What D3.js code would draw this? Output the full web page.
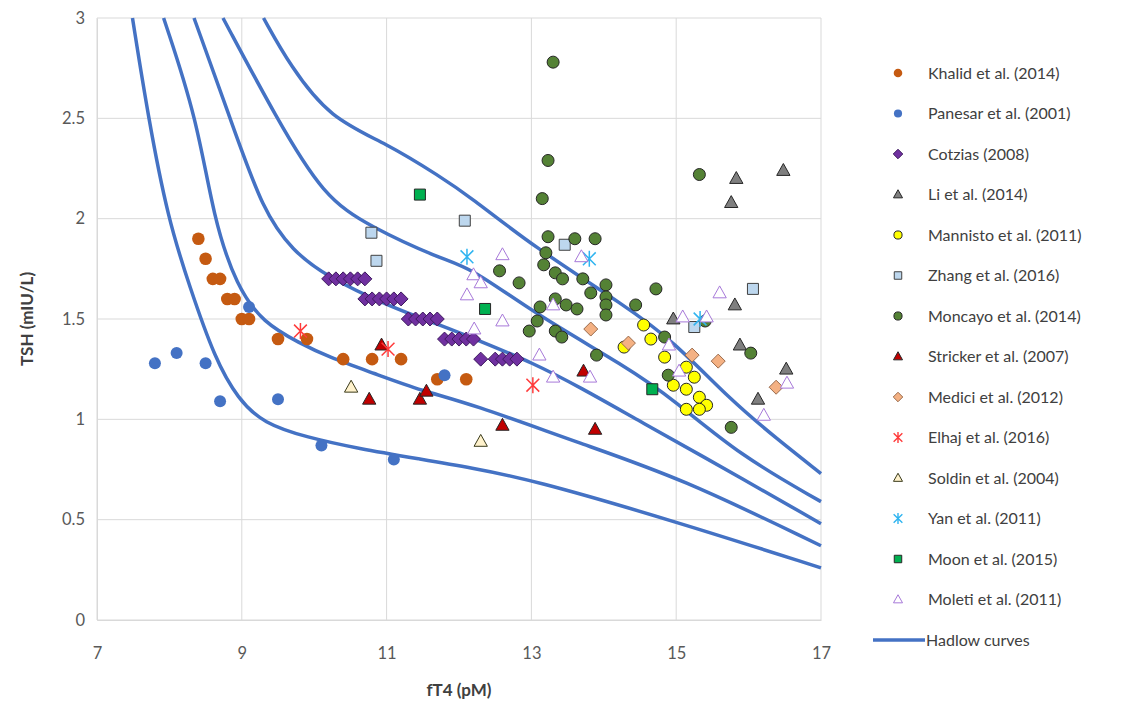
<!DOCTYPE html>
<html><head><meta charset="utf-8">
<script src="https://cdn.jsdelivr.net/npm/d3@7"></script>
<style>body{margin:0;background:#fff} text{font-family:Lato,"Open Sans",sans-serif}</style>
</head><body><svg id="c" width="1127" height="704"></svg>
<script>
// ---- data ----
const xTicks = [7, 9, 11, 13, 15, 17];
const yTicks = [0, 0.5, 1, 1.5, 2, 2.5, 3];
const xTitle = "fT4 (pM)";
const yTitle = "TSH (mIU/L)";

const khalid = [[8.4,1.9],[8.5,1.8],[8.6,1.7],[8.7,1.7],[8.8,1.6],[8.9,1.6],[9.0,1.5],[9.1,1.5],[9.5,1.4],[9.9,1.4],[10.4,1.3],[10.8,1.3],[11.2,1.3],[11.7,1.2],[12.1,1.2]];
const panesar = [[7.8,1.28],[8.1,1.33],[8.5,1.28],[8.7,1.09],[9.1,1.56],[9.5,1.10],[10.1,0.87],[11.1,0.80],[11.8,1.22]];
const cotzias = [[10.2,1.7],[10.3,1.7],[10.4,1.7],[10.5,1.7],[10.6,1.7],[10.7,1.7],
  [10.7,1.6],[10.8,1.6],[10.9,1.6],[11.0,1.6],[11.1,1.6],[11.2,1.6],
  [11.3,1.5],[11.4,1.5],[11.5,1.5],[11.6,1.5],[11.7,1.5],
  [11.8,1.4],[11.9,1.4],[12.0,1.4],[12.1,1.4],[12.2,1.4],
  [12.3,1.3],[12.5,1.3],[12.6,1.3],[12.7,1.3],[12.8,1.3]];
const li = [[14.96,1.50],[15.81,1.57],[15.88,1.37],[16.13,1.10],[16.52,1.25],[15.76,2.08],[15.83,2.20],[16.48,2.24]];
const mannisto = [[14.28,1.36],[14.55,1.47],[14.65,1.40],[14.84,1.31],[15.14,1.26],[15.25,1.21],[14.96,1.17],[15.14,1.15],[15.32,1.11],[15.42,1.07],[15.14,1.05],[15.32,1.05]];
const zhang = [[10.79,1.93],[10.86,1.79],[12.08,1.99],[13.46,1.87],[15.25,1.46],[16.06,1.65]];
const moncayo = [[13.30,2.78],[13.23,2.29],[13.15,2.10],[13.23,1.91],[13.60,1.90],[13.88,1.90],[13.20,1.83],[13.17,1.77],[12.56,1.74],[12.83,1.68],[13.33,1.73],[13.43,1.70],[13.71,1.70],[14.03,1.67],[13.82,1.63],[14.03,1.61],[14.03,1.57],[14.03,1.52],[14.72,1.65],[14.44,1.57],[13.12,1.56],[13.33,1.60],[13.48,1.57],[13.63,1.55],[13.08,1.49],[12.97,1.44],[13.33,1.44],[13.42,1.41],[14.84,1.41],[13.90,1.32],[14.89,1.22],[16.03,1.33],[15.76,0.96],[15.32,2.22],[15.40,1.49]];
const stricker = [[10.93,1.37],[10.76,1.10],[11.46,1.10],[11.55,1.14],[12.60,0.97],[13.72,1.24],[13.88,0.95]];
const medici = [[13.82,1.45],[14.34,1.38],[15.22,1.32],[15.58,1.29],[16.38,1.16]];
const elhaj = [[9.81,1.44],[11.02,1.35],[13.02,1.17]];
const soldin = [[10.51,1.16],[12.30,0.89]];
const yan = [[12.11,1.81],[13.80,1.80],[15.33,1.50]];
const moon = [[11.46,2.12],[12.36,1.55],[14.67,1.15]];
const moleti = [[12.60,1.82],[12.20,1.72],[12.30,1.68],[12.11,1.62],[12.60,1.49],[12.21,1.45],[13.11,1.32],[13.30,1.21],[13.81,1.21],[13.69,1.81],[13.30,1.57],[15.60,1.63],[15.09,1.51],[15.42,1.51],[14.90,1.37],[15.04,1.24],[16.53,1.18],[16.21,1.02]];

const hadlow1 = [[7.49,3.0],[7.71,2.5],[7.98,2.0],[8.28,1.66],[8.63,1.30],[8.95,1.10],[9.3,0.98],[9.9,0.91],[10.6,0.855],[11.5,0.80],[12.15,0.76],[13.0,0.70],[15.0,0.49],[17.0,0.26]];
const hadlow2 = [[7.92,3.0],[8.38,2.5],[8.61,2.0],[8.93,1.66],[9.30,1.48],[9.8,1.38],[10.2,1.31],[10.82,1.23],[11.5,1.14],[12.15,1.08],[13.67,0.88],[15.05,0.71],[17.0,0.37]];
const hadlow3 = [[8.34,3.0],[8.84,2.5],[9.3,2.03],[9.71,1.84],[10.13,1.72],[11.05,1.56],[11.74,1.47],[12.29,1.39],[13.03,1.28],[13.67,1.16],[14.5,0.99],[15.2,0.85],[17.0,0.48]];
const hadlow4 = [[8.74,3.0],[9.48,2.5],[10.13,2.11],[10.77,1.96],[11.74,1.80],[12.15,1.76],[13.03,1.53],[14.32,1.26],[14.96,1.10],[15.88,0.82],[17.0,0.59]];
const hadlow5 = [[9.30,3.0],[9.67,2.76],[10.22,2.5],[11.0,2.375],[11.74,2.21],[12.15,2.11],[13.03,1.86],[14.32,1.56],[14.96,1.39],[15.74,1.10],[16.4,0.90],[17.0,0.73]];
const hadlowCurves = [hadlow1, hadlow2, hadlow3, hadlow4, hadlow5];

const seriesNames = ["Khalid et al. (2014)","Panesar et al. (2001)","Cotzias (2008)","Li et al. (2014)","Mannisto et al. (2011)","Zhang et al. (2016)","Moncayo et al. (2014)","Stricker et al. (2007)","Medici et al. (2012)","Elhaj et al. (2016)","Soldin et al. (2004)","Yan et al. (2011)","Moon et al. (2015)","Moleti et al. (2011)"];
const seriesData = [khalid, panesar, cotzias, li, mannisto, zhang, moncayo, stricker, medici, elhaj, soldin, yan, moon, moleti];
const hadlowName = "Hadlow curves";

// ---- styles ----
const styles = [
  {shape:"circle", fill:"#C55A11", stroke:"none", size:6.3},
  {shape:"circle", fill:"#4472C4", stroke:"none", size:6},
  {shape:"diamond", fill:"#7030A0", stroke:"#3d1a5e", size:7},
  {shape:"triangle", fill:"#7F7F7F", stroke:"#262626", size:7},
  {shape:"circle", fill:"#FFFF00", stroke:"#262626", size:6},
  {shape:"square", fill:"#BDD7EE", stroke:"#404040", size:5.5},
  {shape:"circle", fill:"#548235", stroke:"#262626", size:6},
  {shape:"triangle", fill:"#C00000", stroke:"#262626", size:7},
  {shape:"diamond", fill:"#F4B183", stroke:"#9a6b4c", size:7},
  {shape:"star", fill:"none", stroke:"#FF3B3B", size:8},
  {shape:"triangle", fill:"#FFF2CC", stroke:"#3a3a1a", size:7},
  {shape:"star", fill:"none", stroke:"#2FB4F0", size:8},
  {shape:"square", fill:"#00B050", stroke:"#262626", size:5.5},
  {shape:"triangle", fill:"#ffffff", stroke:"#A779D9", size:7}
];

function shapePath(shape, s){
  switch(shape){
    case "circle": return `M${-s},0A${s},${s} 0 1,0 ${s},0A${s},${s} 0 1,0 ${-s},0Z`;
    case "diamond": return `M0,${-s}L${s},0L0,${s}L${-s},0Z`;
    case "square": return `M${-s},${-s}H${s}V${s}H${-s}Z`;
    case "triangle": return `M0,${-s}L${s*0.95},${s*0.7}L${-s*0.95},${s*0.7}Z`;
    case "star": {const a=s*0.8; return `M${-a},${-a}L${a},${a}M${-a},${a}L${a},${-a}M0,${-s}L0,${s}`;}
  }
}

const svg = d3.select("#c");
const x = d3.scaleLinear().domain([7,17]).range([97,821]);
const y = d3.scaleLinear().domain([0,3]).range([620,18]);

// grid
const g = svg.append("g");
g.selectAll(".hg").data(yTicks).join("line")
  .attr("x1", x(7)).attr("x2", x(17)).attr("y1", d=>y(d)).attr("y2", d=>y(d))
  .attr("stroke", "#d9d9d9").attr("stroke-width", 1);
g.selectAll(".vg").data(xTicks).join("line")
  .attr("y1", y(0)).attr("y2", y(3)).attr("x1", d=>x(d)).attr("x2", d=>x(d))
  .attr("stroke", "#d9d9d9").attr("stroke-width", 1);

// axes labels
const yAxis = d3.axisLeft(y).tickValues(yTicks).tickFormat(d3.format("")).tickSize(0).tickPadding(12);
const xAxis = d3.axisBottom(x).tickValues(xTicks).tickFormat(d3.format("d")).tickSize(0).tickPadding(27);
const ya = svg.append("g").attr("transform", `translate(${x(7)},0)`).call(yAxis);
const xa = svg.append("g").attr("transform", `translate(0,${y(0)})`).call(xAxis);
[ya, xa].forEach(a=>{
  a.select(".domain").attr("stroke","#d9d9d9");
  a.selectAll("text").attr("fill","#595959").style("font-size","16.5px").style("font-family","Lato, 'Open Sans', sans-serif");
});

svg.append("text").text(xTitle).attr("x", 459).attr("y", 696).attr("text-anchor","middle")
  .attr("font-weight","bold").attr("font-size","17px").attr("fill","#404040");
svg.append("text").text(yTitle).attr("transform","translate(33,319) rotate(-90)").attr("text-anchor","middle")
  .attr("font-weight","bold").attr("font-size","17px").attr("fill","#404040");

// curves
svg.append("clipPath").attr("id","clip").append("rect").attr("x",x(7)).attr("y",y(3)-2).attr("width",x(17)-x(7)+2).attr("height",y(0)-y(3)+2);
const line = d3.line().x(d=>x(d[0])).y(d=>y(d[1])).curve(d3.curveBasis);
svg.append("g").attr("clip-path","url(#clip)").selectAll("path").data(hadlowCurves).join("path")
  .attr("d", line).attr("fill","none").attr("stroke","#4472C4").attr("stroke-width",3.5);

// markers
seriesData.forEach((data, i)=>{
  const st = styles[i];
  svg.append("g").selectAll("path").data(data).join("path")
    .attr("transform", d=>`translate(${x(d[0])},${y(d[1])})`)
    .attr("d", shapePath(st.shape, st.size))
    .attr("fill", st.fill).attr("stroke", st.stroke)
    .attr("stroke-width", st.shape==="star"?1.5:1);
});

// legend
const lg = svg.append("g");
seriesNames.forEach((name, i)=>{
  const st = styles[i];
  const yy = 73 + i*40.5;
  lg.append("path").attr("transform",`translate(898,${yy})`).attr("d", shapePath(st.shape, st.size*0.68))
    .attr("fill", st.fill).attr("stroke", st.stroke).attr("stroke-width", st.shape==="star"?1.4:1);
  lg.append("text").text(name).attr("x", 928).attr("y", yy+5.5).attr("font-size","16px").attr("fill","#404040");
});
const hy = 73 + 14*40.5;
lg.append("line").attr("x1",873).attr("x2",925).attr("y1",hy).attr("y2",hy).attr("stroke","#4472C4").attr("stroke-width",3.5);
lg.append("text").text(hadlowName).attr("x", 926).attr("y", hy+5.5).attr("font-size","16px").attr("fill","#404040");
</script></body></html>
